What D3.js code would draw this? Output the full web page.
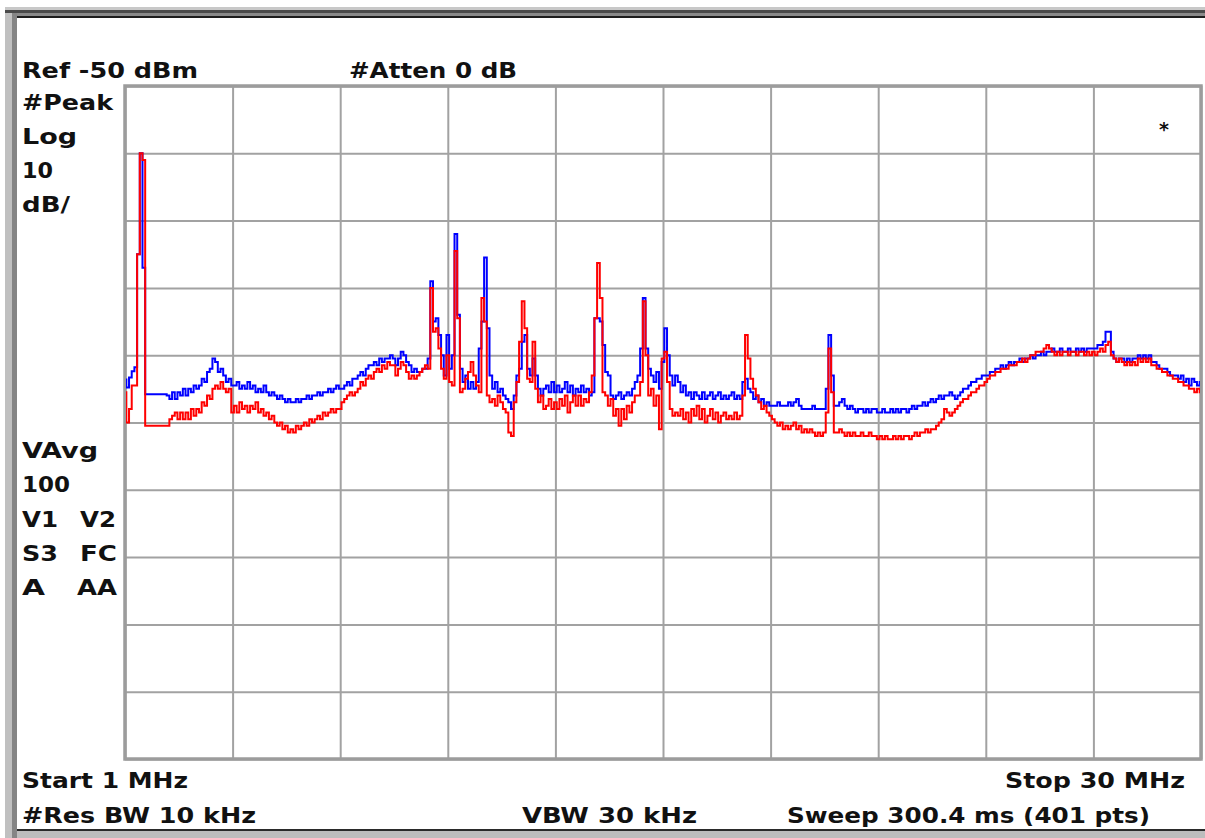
<!DOCTYPE html>
<html>
<head>
<meta charset="utf-8">
<script src="https://cdn.jsdelivr.net/npm/d3@7"></script>
<style>
html,body{margin:0;padding:0;background:#fff;}
svg{display:block;}
text{font-family:"DejaVu Sans",Verdana,sans-serif;font-weight:bold;fill:#111;}
</style>
</head>
<body>
<svg id="chart" width="1205" height="838"></svg>
<script>
// ---- Data (dBm at each of the 401 sweep points, 1 MHz .. 30 MHz) ----
const startFreqMHz = 1;
const stopFreqMHz = 30;
const refLevel = -50;
const dbPerDiv = 10;

const traceBlue = [
-93.6,-94.8,-93.3,-92.4,-91.8,-75,-60,-77,-95.8,-95.8,
-95.8,-95.8,-95.8,-95.8,-95.8,-95.8,-96,-96.5,-95.5,-96.5,
-95.5,-96,-95,-96,-95,-95.5,-94.5,-95,-94.5,-93.5,
-94,-92.5,-92,-90.5,-91,-92.5,-92,-93,-94,-93.5,
-94.5,-94.5,-94,-95,-94.5,-95,-94,-95,-94.5,-95.5,
-95,-95.5,-94.5,-95.5,-96,-95.5,-96,-96.5,-96,-96.5,
-97,-96.5,-97,-97,-96.5,-97,-96.5,-96.5,-96,-96.5,
-96,-96,-95.5,-96,-95.5,-95.5,-95,-95.5,-95,-94.5,
-95,-95,-94.5,-94,-94.5,-93.5,-93.5,-93,-92.5,-93,
-92,-91.5,-91.5,-91,-91.5,-90.5,-91,-90.5,-90.5,-90,
-90.5,-91.5,-90.5,-89.5,-90,-91,-91.5,-92.5,-92,-92.5,
-92.5,-92,-92,-90.5,-79,-85,-84.5,-87,-90,-93,
-87,-92,-90,-72,-84,-92,-94,-93,-95,-94,
-95,-94,-89,-85,-75.5,-86,-93,-95,-94,-95.5,
-95,-96,-96.5,-97,-98,-96,-93,-92,-88,-87,
-92,-93,-90.5,-93,-95,-96,-95,-94.5,-95.5,-94,
-95.5,-94.5,-95.5,-95,-94,-95.5,-94.5,-96,-95,-95.5,
-94.5,-95.5,-95,-96,-95.5,-84.5,-84.5,-85,-88.5,-92.5,
-93,-96,-96.5,-96,-95.5,-96.5,-96,-95.5,-96,-95,
-94,-93,-89,-81.5,-89,-92,-93,-94,-92.5,-95,
-91,-86,-90,-93,-94.5,-93,-94,-95.5,-94.5,-96,
-95.5,-96.5,-95.5,-96,-96.5,-95.5,-96.5,-96,-95.5,-96.5,
-96,-95.5,-96.5,-96,-96.5,-96,-95.5,-96.5,-96,-96.5,
-94,-93.5,-95,-95.5,-96.5,-96,-97,-96.5,-97.5,-97,
-97.5,-97.5,-97.5,-97,-97.5,-97.5,-97.5,-97,-97.5,-97,
-96.5,-97.5,-98,-98,-98,-98,-97.5,-98,-98,-98,
-98,-95,-87,-93,-97.5,-97.5,-97,-96.5,-97.5,-98,
-97.5,-98,-98.5,-98,-98,-98.5,-98,-98.5,-98,-98,
-98.5,-98.5,-98,-98.5,-98.5,-98,-98.5,-98,-98.5,-98,
-98,-98.5,-98,-97.5,-98,-97.5,-97.5,-97,-97.5,-97,
-96.5,-97,-96.5,-96,-96.5,-96,-96,-95.5,-96,-96.5,
-96,-95.5,-95,-95,-94.5,-94,-94,-93.5,-93.5,-93,
-93,-93,-92.5,-92.5,-92,-92,-91.5,-92,-91.5,-91,
-91.5,-91,-91,-90.5,-91,-90.5,-90.5,-90,-90.5,-90,
-90,-89.5,-90,-89.5,-89.5,-89,-89.5,-89.5,-89,-89.5,
-89.5,-89,-89.5,-89.5,-89,-89.5,-89,-89.5,-89,-89,
-89,-89,-88.5,-88.5,-88,-86.5,-86.5,-89.5,-90.5,-91,
-90.5,-90.5,-91,-90.5,-91,-90.5,-90.5,-90,-90.5,-90,
-90.5,-90,-91,-91,-91.5,-92,-92,-92,-92.5,-93,
-93,-93,-93.5,-93,-94,-93.5,-94.5,-93.5,-94,-94.5,
-94
];

const traceRed = [
-95.5,-100,-98,-94.5,-94.5,-75,-60,-61,-100.5,-100.5,
-100.5,-100.5,-100.5,-100.5,-100.5,-100.5,-100.5,-99.5,-99,-98.5,
-99.5,-98.5,-99.5,-98.5,-99.5,-98,-99,-98,-98.5,-97,
-97.5,-96,-96.5,-95,-94.5,-95,-94,-95,-95.5,-95,
-98.5,-97.5,-98.5,-97,-98,-97.5,-98.5,-97.5,-98,-97,
-98.5,-98,-99,-98.5,-99.5,-99,-100,-100.5,-100,-101,
-100.5,-101.5,-101,-101.5,-100.5,-101,-100.5,-100,-100.5,-99.5,
-100,-99.5,-99,-99.5,-98.5,-99,-98.5,-98,-98.5,-98,
-98,-97,-96.5,-96,-95.5,-96,-95.5,-95,-94,-94.5,
-93.5,-93,-93.5,-92.5,-92,-92.5,-91.5,-92,-91,-91.5,
-91.5,-93,-92,-91,-91.5,-92.5,-93.5,-93,-93.5,-93,
-92.5,-92,-91.5,-92,-80,-86.5,-86,-89,-92,-93.5,
-90,-94,-94.5,-74.5,-84.5,-95.5,-95,-93.5,-92.5,-91,
-93,-94.5,-95.5,-81.5,-85,-96,-97,-96.5,-97.5,-96,
-97,-98,-98.5,-101.5,-102,-97,-94,-88,-82,-86,
-93.5,-94,-88,-95,-97,-96,-98,-97.5,-96.5,-98,
-97,-98,-96.5,-97.5,-96,-98.5,-97,-96,-97.5,-96,
-97.5,-96.5,-97,-95.5,-93,-84.5,-76.3,-81.5,-95.5,-96,
-97.5,-96.5,-99,-98,-100.5,-98,-99.5,-97.5,-98.5,-97,
-96,-96,-94,-82,-90,-96,-95,-97.5,-96,-101,
-90.5,-89.5,-94,-98,-99,-98.5,-99,-98,-99.5,-98.5,
-100,-98,-99,-97.5,-99.5,-98,-100,-99,-98,-99.5,
-98.5,-100,-99,-98.5,-99.5,-99,-99.5,-98.5,-99.5,-99,
-96,-87,-90.5,-93.5,-95,-96,-97,-98,-97.5,-98.5,
-99,-99.5,-100,-100.5,-100,-101,-100.5,-101,-100.5,-100,
-101,-100.5,-101.5,-101,-101.5,-101,-101.5,-102,-101.5,-102,
-101.5,-98.5,-89,-95.5,-101.5,-101.5,-101,-101.5,-102,-101.5,
-102,-101.5,-102,-102,-101.5,-102,-102,-101.5,-102,-102,
-102.5,-102,-102.5,-102,-102.5,-102.5,-102,-102.5,-102,-102.5,
-102,-102,-102.5,-102,-101.5,-102,-101.5,-101.5,-101,-101.5,
-101,-101,-100.5,-100,-99.5,-98,-98.5,-99,-98.5,-98,
-97.5,-97,-96.5,-96.5,-96,-95.5,-95.5,-95,-94.5,-94.5,
-94,-93.5,-93,-93,-92.5,-92.5,-92,-92,-92,-91.5,
-91.5,-91.5,-91,-91,-90.5,-91,-90.5,-90,-90,-89.5,
-89.5,-89.5,-89,-88.5,-89,-89.5,-90,-89.5,-90,-89.5,
-89.5,-90,-89.5,-89.5,-90,-89.5,-89.5,-90,-89.5,-90,
-89.5,-90,-89.5,-89,-89.5,-88.5,-88,-90,-90.5,-91,
-90.5,-91,-91.5,-91,-91.5,-91,-91.5,-90.5,-91,-90.5,
-91,-90.5,-91.5,-91.5,-92,-92,-92.5,-92.5,-93,-93,
-93.5,-93.5,-94,-94,-94.5,-94.5,-95,-95,-95.5,-95,
-95.5
];

// grid divisions
const xGridFreqs = [1, 3.9, 6.8, 9.7, 12.6, 15.5, 18.4, 21.3, 24.2, 27.1, 30];
const yGridLevels = [-50, -60, -70, -80, -90, -100, -110, -120, -130, -140, -150];

// annotation texts
const topLabels = ["Ref -50 dBm", "#Atten 0 dB"];
const leftLabelsTop = ["#Peak", "Log", "10", "dB/"];
const leftLabelsBottom = [["VAvg", ""], ["100", ""], ["V1", "V2"], ["S3", "FC"], ["A", "AA"]];
const bottomRow1 = ["Start 1 MHz", "Stop 30 MHz"];
const bottomRow2 = ["#Res BW 10 kHz", "VBW 30 kHz", "Sweep 300.4 ms (401 pts)"];
const markerLabel = "*";

// ---- Drawing ----
const svg = d3.select("#chart");
const W = 1205, H = 838;
const plot = {left: 125, right: 1201, top: 86, bottom: 759};

// window frame
const frame = svg.append("g");
frame.append("rect").attr("x",0).attr("y",0).attr("width",W).attr("height",H).attr("fill","#fff");
frame.append("rect").attr("x",5).attr("y",7).attr("width",W-5).attr("height",3).attr("fill","#c8c8c8");
frame.append("rect").attr("x",5).attr("y",10).attr("width",W-5).attr("height",3).attr("fill","#4a4a4a");
frame.append("rect").attr("x",5).attr("y",13).attr("width",7).attr("height",H-13).attr("fill","#c0c0c0");
frame.append("rect").attr("x",12).attr("y",13).attr("width",5).attr("height",H-13).attr("fill","#858585");
frame.append("rect").attr("x",17).attr("y",13).attr("width",W-17).attr("height",3).attr("fill","#8a8a8a");
frame.append("rect").attr("x",17).attr("y",16).attr("width",W-17).attr("height",2).attr("fill","#1e1e1e");
frame.append("rect").attr("x",17).attr("y",829).attr("width",W-17).attr("height",2).attr("fill","#2a2a2a");
frame.append("rect").attr("x",17).attr("y",831).attr("width",W-17).attr("height",H-831).attr("fill","#bdbdbd");

const x = d3.scaleLinear().domain([startFreqMHz, stopFreqMHz]).range([plot.left, plot.right]);
const y = d3.scaleLinear().domain([refLevel - 10*dbPerDiv, refLevel]).range([plot.bottom, plot.top]);

// grid via axes
const gridColor = "#a2a2a2";
const xg = svg.append("g").attr("transform", `translate(0,${plot.bottom})`)
  .call(d3.axisBottom(x).tickValues(xGridFreqs).tickSize(-(plot.bottom-plot.top)).tickFormat(""));
xg.select(".domain").remove();
xg.selectAll("line").attr("stroke", gridColor).attr("stroke-width", 2);

const yg = svg.append("g").attr("transform", `translate(${plot.left},0)`)
  .call(d3.axisLeft(y).tickValues(yGridLevels).tickSize(-(plot.right-plot.left)).tickFormat(""));
yg.select(".domain").remove();
yg.selectAll("line").attr("stroke", gridColor).attr("stroke-width", 2);

// plot border
svg.append("rect").attr("x", plot.left).attr("y", plot.top)
  .attr("width", plot.right-plot.left).attr("height", plot.bottom-plot.top)
  .attr("fill","none").attr("stroke","#9c9c9c").attr("stroke-width",3.5);

// traces
svg.append("defs").append("clipPath").attr("id","clip")
  .append("rect").attr("x", plot.left+1).attr("y", plot.top+1)
  .attr("width", plot.right-plot.left-2).attr("height", plot.bottom-plot.top-2);

const nPts = traceBlue.length;
const freqAt = i => startFreqMHz + i*(stopFreqMHz-startFreqMHz)/(nPts-1);
const line = d3.line().x((d,i)=>x(freqAt(i))).y(d=>y(d)).curve(d3.curveStep);

const tg = svg.append("g").attr("clip-path","url(#clip)");
tg.append("path").datum(traceBlue).attr("d", line)
  .attr("fill","none").attr("stroke","#0000ff").attr("stroke-width",2).attr("stroke-linejoin","miter");
tg.append("path").datum(traceRed).attr("d", line)
  .attr("fill","none").attr("stroke","#ff0000").attr("stroke-width",2).attr("stroke-linejoin","miter");

// texts
function label(t, px, py, len, size){
  const el = svg.append("text").attr("x",px).attr("y",py).attr("font-size", size||21).text(t);
  if (len) el.attr("textLength", len).attr("lengthAdjust","spacingAndGlyphs");
  return el;
}
label(topLabels[0], 22, 78, 176);
label(topLabels[1], 349, 78, 168);
const ltW = [91, 55, 31, 48];
leftLabelsTop.forEach((t,i)=>label(t, 22, 110 + i*34, ltW[i]));
const lbW = [[76,0],[48,0],[36,36],[36,37],[23,40]];
const lbX2 = [0,0,80,80,77];
leftLabelsBottom.forEach((pair,i)=>{
  const yy = 458 + i*34.3;
  label(pair[0], 22, yy, lbW[i][0]);
  if (pair[1]) label(pair[1], lbX2[i], yy, lbW[i][1]);
});
label(bottomRow1[0], 22, 788, 166);
label(bottomRow1[1], 1005, 788, 180);
label(bottomRow2[0], 22, 823, 234);
label(bottomRow2[1], 522, 823, 175);
label(bottomRow2[2], 787, 823, 363);
label(markerLabel, 1159, 136, null, 19);
</script>
</body>
</html>
